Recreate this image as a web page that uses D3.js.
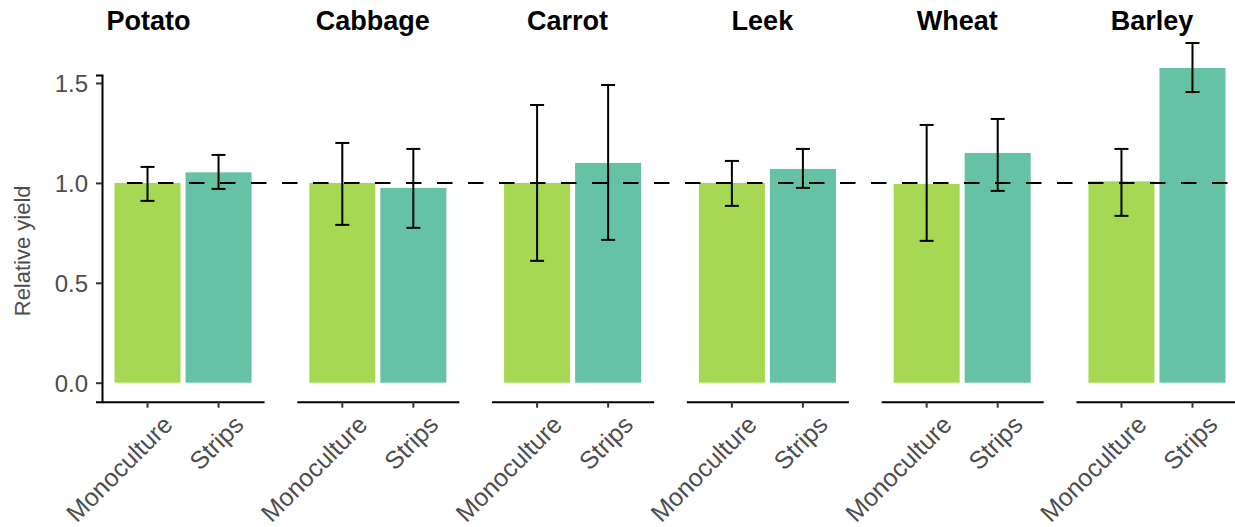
<!DOCTYPE html>
<html>
<head>
<meta charset="utf-8">
<script src="https://cdn.jsdelivr.net/npm/d3@7"></script>
<style>
  html, body { margin: 0; padding: 0; background: #fff; }
  svg { display: block; }
  text { font-family: "Liberation Sans", Arial, sans-serif; }
</style>
</head>
<body>
<div id="chart"></div>
<script>
// ---------- data ----------
const crops = ["Potato", "Cabbage", "Carrot", "Leek", "Wheat", "Barley"];
const treatments = ["Monoculture", "Strips"];
const monoMean   = [1.00, 1.00, 1.00, 1.00, 0.995, 1.008];
const monoLow    = [0.91, 0.79, 0.61, 0.885, 0.71, 0.835];
const monoHigh   = [1.08, 1.20, 1.39, 1.11, 1.29, 1.17];
const stripsMean = [1.053, 0.975, 1.10, 1.07, 1.15, 1.575];
const stripsLow  = [0.97, 0.775, 0.715, 0.975, 0.96, 1.455];
const stripsHigh = [1.14, 1.17, 1.49, 1.17, 1.32, 1.70];
const yTicks = [0, 0.5, 1.0, 1.5];
const refLine = 1.0;
const colors = ["#a6d854", "#66c2a5"];

// ---------- layout ----------
const W = 1235, H = 527;
const svg = d3.select("#chart").append("svg").attr("width", W).attr("height", H);

const y = d3.scaleLinear().domain([-0.095, 1.54]).range([401.7, 75]);
const panel = d3.scaleBand().domain(crops).range([102, 1238]).paddingInner(0.168);
const inner = d3.scaleBand().domain(treatments).range([0, panel.bandwidth()])
  .paddingInner(0.0704).paddingOuter(0.176);
const color = d3.scaleOrdinal().domain(treatments).range(colors);

const rows = crops.map((c, i) => ({
  crop: c,
  vals: [
    { t: "Monoculture", mean: monoMean[i], lo: monoLow[i], hi: monoHigh[i] },
    { t: "Strips", mean: stripsMean[i], lo: stripsLow[i], hi: stripsHigh[i] }
  ]
}));

// y axis
const yAxis = d3.axisLeft(y).tickValues(yTicks).tickFormat(d3.format(".1f")).tickSizeOuter(0).tickSize(6).tickPadding(8);
const yg = svg.append("g").attr("transform", `translate(${panel.range()[0]},0)`).call(yAxis);
yg.select(".domain").attr("stroke", "#000").attr("stroke-width", 2);
yg.selectAll(".tick line").attr("stroke", "#333").attr("stroke-width", 2);
yg.selectAll(".tick text").attr("fill", "#4d4d4d").style("font-size", "24px").attr("dy", "0.36em");

svg.append("text")
  .attr("transform", `translate(30,${y(0.66)}) rotate(-90)`)
  .attr("text-anchor", "middle")
  .attr("fill", "#4d4d4d")
  .style("font-size", "22px")
  .text("Relative yield");

// panels
const g = svg.selectAll("g.panel").data(rows).join("g")
  .attr("class", "panel")
  .attr("transform", d => `translate(${panel(d.crop)},0)`);

g.selectAll("rect").data(d => d.vals).join("rect")
  .attr("x", d => inner(d.t))
  .attr("width", inner.bandwidth())
  .attr("y", d => y(d.mean))
  .attr("height", d => y(0) - y(d.mean))
  .attr("fill", d => color(d.t));

// x axes per panel
g.each(function() {
  const xa = d3.axisBottom(inner).tickSize(6).tickSizeOuter(0).tickFormat("");
  const ag = d3.select(this).append("g").attr("transform", `translate(0,${y.range()[0]})`).call(xa);
  ag.select(".domain").attr("stroke", "#000").attr("stroke-width", 2);
  ag.selectAll(".tick line").attr("stroke", "#333").attr("stroke-width", 2);
});

g.selectAll("text.xlab").data(d => d.vals).join("text")
  .attr("class", "xlab")
  .attr("text-anchor", "end")
  .attr("fill", "#4d4d4d")
  .style("font-size", "25px")
  .attr("dy", "0.71em")
  .attr("transform", d => {
    const ax = inner(d.t) + inner.bandwidth() / 2 + 14;
    const ay = y.range()[0] + 12;
    return `translate(${ax},${ay}) rotate(-45)`;
  })
  .text(d => d.t);

// reference dashed line
svg.append("line")
  .attr("x1", 127).attr("x2", W)
  .attr("y1", y(refLine)).attr("y2", y(refLine))
  .attr("stroke", "#000").attr("stroke-width", 2)
  .attr("stroke-dasharray", "15.5,15.5");

// error bars
const cap = 7;
const eb = g.selectAll("g.err").data(d => d.vals).join("g").attr("class", "err")
  .attr("transform", d => `translate(${inner(d.t) + inner.bandwidth() / 2},0)`)
  .attr("stroke", "#000").attr("stroke-width", 2);
eb.append("line").attr("x1", 0).attr("x2", 0).attr("y1", d => y(d.lo)).attr("y2", d => y(d.hi));
eb.append("line").attr("x1", -cap).attr("x2", cap).attr("y1", d => y(d.lo)).attr("y2", d => y(d.lo));
eb.append("line").attr("x1", -cap).attr("x2", cap).attr("y1", d => y(d.hi)).attr("y2", d => y(d.hi));

// titles
g.append("text")
  .attr("x", (d, i) => i === 0 ? (panel(crops[1]) / 2 - panel(d.crop)) : panel.bandwidth() / 2 - 5)
  .attr("y", 30)
  .attr("text-anchor", "middle")
  .attr("fill", "#000")
  .style("font-size", "27px")
  .style("font-weight", "bold")
  .text(d => d.crop);
</script>
</body>
</html>
